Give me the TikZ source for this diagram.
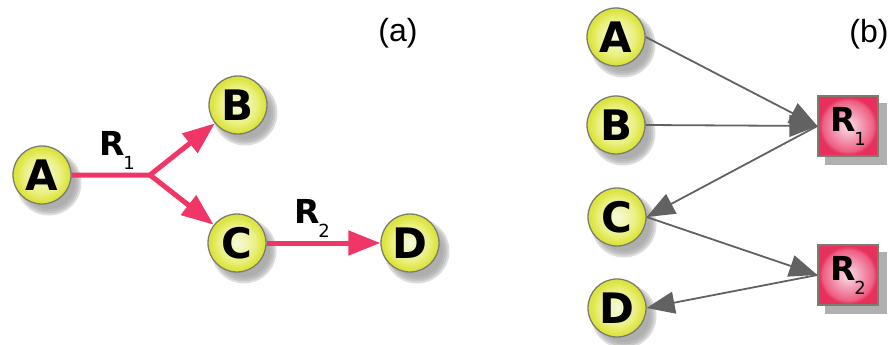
\documentclass[tikz,border=0pt]{standalone}
\usepackage{fontspec}
\setmainfont{DejaVu Sans}
\newfontfamily\labfont{Liberation Sans}
\usetikzlibrary{arrows.meta,backgrounds,calc}
\definecolor{yI}{HTML}{F6F9DC}
\definecolor{yM}{HTML}{EAF07E}
\definecolor{yO}{HTML}{DCE43E}
\definecolor{pI}{HTML}{FBE0E8}
\definecolor{pM}{HTML}{F290AC}
\definecolor{pO}{HTML}{E8305C}
\definecolor{rimgray}{HTML}{7C7C70}
\definecolor{arrgray}{HTML}{626262}
\definecolor{pinkarr}{HTML}{EF3667}
\pgfdeclareradialshading{yball}{\pgfpoint{0bp}{0bp}}{color(0bp)=(yI);color(7bp)=(yI!60!yM);color(16bp)=(yM);color(23bp)=(yO);color(50bp)=(yO)}
\pgfdeclareradialshading{pball}{\pgfpoint{0bp}{0bp}}{color(0bp)=(pI);color(13bp)=(pM);color(21bp)=(pM!50!pO);color(24bp)=(pO);color(50bp)=(pO)}
\newcommand{\Rlab}[1]{{\fontsize{33}{33}\selectfont\bfseries R}\kern-1pt\raisebox{-14pt}{\fontsize{18}{18}\selectfont #1}}
\tikzset{
  ball/.style={circle,minimum size=58pt,inner sep=0pt,draw=rimgray,line width=1.3pt,shade,shading=yball,font=\fontsize{42}{42}\selectfont\bfseries},
  rsq/.style={rectangle,minimum size=60pt,inner sep=0pt,draw=rimgray,line width=1.3pt,shade,shading=pball},
  pinkline/.style={draw=pinkarr,line width=5pt},
  pinkarrow/.style={pinkline,-{Triangle[length=32pt,width=24pt]}},
  grayarrow/.style={draw=arrgray,line width=1.8pt,-{Triangle[length=28pt,width=22pt]}},
  rlabel/.style={inner sep=0pt},
  panel/.style={inner sep=0pt,font=\labfont\fontsize{32}{32}\selectfont},
}
\begin{document}
\begin{tikzpicture}[x=1pt,y=-1pt]
\path[use as bounding box] (0,0) rectangle (888,345);
% panel (a)
\node[ball] (A) at (42,175) {A};
\node[ball] (B) at (238,105) {B};
\node[ball] (C) at (237,243) {C};
\node[ball] (D) at (410,243) {D};
\coordinate (split) at (150,175);
\node[rlabel] (r1a) at (117,150) {\Rlab{1}};
\node[rlabel] (r2a) at (312,218) {\Rlab{2}};
\node[panel] (la) at (398,33) {(a)};
\draw[pinkarrow] (A) -- (split) -- (B);
\draw[pinkarrow] (split) -- (C);
\draw[pinkarrow] (C) -- (D);
% panel (b)
\node[ball] (bA) at (616,37) {A};
\node[ball] (bB) at (616,125) {B};
\node[ball] (bC) at (617,217) {C};
\node[ball] (bD) at (617,308) {D};
\node[rsq] (R1) at (848,126) {\Rlab{1}};
\node[rsq] (R2) at (848,275) {\Rlab{2}};
\node[panel] (lb) at (869,34) {(b)};
\draw[grayarrow] (bA.east) -- (R1.west);
\draw[grayarrow] (bB.east) -- (R1.west);
\draw[grayarrow] (R1.west) -- (bC.east);
\draw[grayarrow] (bC.east) -- (R2.west);
\draw[grayarrow] (R2.west) -- (bD.east);
% shadows
\begin{scope}[on background layer]
\fill[white] (0,0) rectangle (888,345);
\foreach \n in {A,B,C,D,bA,bB,bC,bD}{
  \foreach \r in {32.5,30.5,28.5,26}{
    \fill[black!38,opacity=.35] ($(\n)+(7,8)$) circle[radius=\r pt];
  }
}
\foreach \n in {R1,R2}{
  \fill[black!31] ($(\n.north west)+(8,8)$) rectangle ($(\n.south east)+(8,8)$);
}
\end{scope}
\end{tikzpicture}
\end{document}
